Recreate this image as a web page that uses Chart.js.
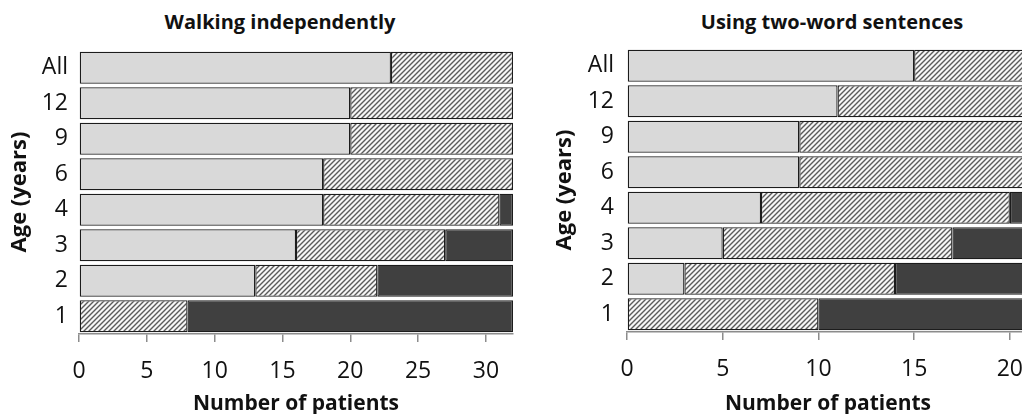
<!DOCTYPE html>
<html>
<head>
<meta charset="utf-8">
<script src="https://cdn.jsdelivr.net/npm/chart.js@4.4.1/dist/chart.umd.min.js"></script>
<style>
    body {
        margin: 0;
        width: 1022px;
        height: 414px;
        overflow: hidden;
        position: relative;
        background: #fff;
        font-family: 'Open Sans', sans-serif;
    }
    canvas {
        position: absolute;
        top: 0;
    }
    .title {
        position: absolute;
        top: 10px;
        width: 340px;
        text-align: center;
        font-weight: bold;
        font-size: 20px;
        line-height: 24px;
        color: #111;
        white-space: nowrap;
    }
</style>
</head>
<body>
<div class="title" style="left:110px">Walking independently</div>
<div class="title" style="left:662px">Using two-word sentences</div>
<canvas id="walk_chart" width="520" height="414" style="left:0"></canvas>
<canvas id="talk_chart" width="510" height="414" style="left:530px"></canvas>
<script>
// age groups, top row first
const ages = ['All', '12', '9', '6', '4', '3', '2', '1'];

// walking independently
const walk_yes = [23, 20, 20, 18, 18, 16, 13, 0];
const walk_partly = [9, 12, 12, 14, 13, 11, 9, 8];
const walk_no = [0, 0, 0, 0, 1, 5, 10, 24];
const walk_ticks = [0, 5, 10, 15, 20, 25, 30];
const walk_max = 32;

// using two-word sentences
const talk_yes = [15, 11, 9, 9, 7, 5, 3, 0];
const talk_partly = [6, 10, 12, 12, 13, 12, 11, 10];
const talk_no = [0, 0, 0, 0, 1, 4, 7, 11];
const talk_ticks = [0, 5, 10, 15, 20];
const talk_max = 21;

// hatch fill for the middle segment
function makeHatch() {
    const size = 5;
    const tile = document.createElement('canvas');
    tile.width = size;
    tile.height = size;
    const c = tile.getContext('2d');
    c.fillStyle = '#f6f6f6';
    c.fillRect(0, 0, size, size);
    c.strokeStyle = '#5a5a5a';
    c.lineWidth = 1.4;
    c.beginPath();
    c.moveTo(-1, size + 1); c.lineTo(size + 1, -1);
    c.moveTo(-1, 1); c.lineTo(1, -1);
    c.moveTo(size - 1, size + 1); c.lineTo(size + 1, size - 1);
    c.stroke();
    return c.createPattern(tile, 'repeat');
}
const hatch = makeHatch();

function makeChart(id, yes, partly, no, ticks, max, box) {
    const ctx = document.getElementById(id).getContext('2d');
    const seg = (data, fill) => ({
        data: data,
        backgroundColor: fill,
        borderColor: '#1c1c1c',
        borderWidth: 1.3,
        borderSkipped: false,
        barPercentage: 0.9,
        categoryPercentage: 1
    });
    return new Chart(ctx, {
        type: 'bar',
        data: {
            labels: ages,
            datasets: [seg(yes, '#d9d9d9'), seg(partly, hatch), seg(no, '#404040')]
        },
        options: {
            indexAxis: 'y',
            responsive: false,
            animation: false,
            devicePixelRatio: 1,
            layout: {
                padding: { left: 0, right: box.right, top: box.top, bottom: 0 }
            },
            plugins: {
                legend: { display: false },
                tooltip: { enabled: false }
            },
            scales: {
                x: {
                    stacked: true,
                    min: 0,
                    max: max,
                    afterBuildTicks: scale => {
                        scale.ticks = ticks.map(v => ({ value: v }));
                    },
                    afterFit: scale => { scale.height = box.xh; },
                    grid: {
                        drawOnChartArea: false,
                        drawTicks: true,
                        tickLength: 8,
                        color: '#8c8c8c',
                        lineWidth: 1.5
                    },
                    border: { display: true, color: '#8c8c8c', width: 1.5 },
                    ticks: {
                        padding: 16,
                        color: '#111',
                        font: { family: 'Open Sans', size: 23 }
                    },
                    title: {
                        display: true,
                        text: 'Number of patients',
                        color: '#111',
                        padding: { top: 0, bottom: -3 },
                        font: { family: 'Open Sans', size: 21, weight: 'bold' }
                    }
                },
                y: {
                    stacked: true,
                    afterFit: scale => { scale.width = box.yw; },
                    grid: { display: false, drawTicks: false },
                    border: { display: false },
                    ticks: {
                        padding: box.tickPad,
                        color: '#111',
                        font: { family: 'Open Sans', size: 23 }
                    },
                    title: {
                        display: true,
                        text: 'Age (years)',
                        color: '#111',
                        padding: { top: box.titlePad, bottom: 0 },
                        font: { family: 'Open Sans', size: 22, weight: 'bold' }
                    }
                }
            }
        }
    });
}

makeChart('walk_chart', walk_yes, walk_partly, walk_no, walk_ticks, walk_max,
    { right: 7, top: 50, xh: 80, yw: 79, tickPad: 11, titlePad: 7 });
makeChart('talk_chart', talk_yes, talk_partly, talk_no, talk_ticks, talk_max,
    { right: 11, top: 48, xh: 82, yw: 97, tickPad: 13, titlePad: 22 });
</script>
</body>
</html>
